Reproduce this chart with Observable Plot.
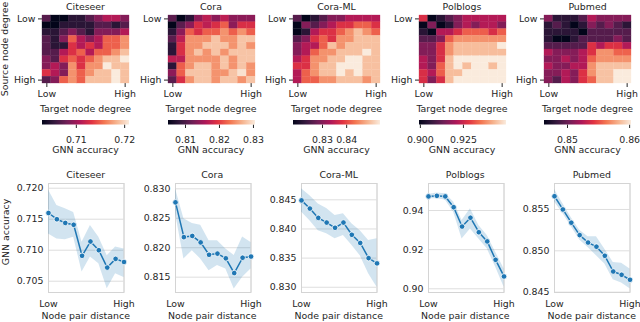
<!DOCTYPE html>
<html><head><meta charset="utf-8">
<script src="https://cdn.jsdelivr.net/npm/d3@7"></script>
<script src="https://cdn.jsdelivr.net/npm/@observablehq/plot@0.6"></script>
<style>
body{margin:0;background:#fff;}
#wrap{position:relative;width:640px;height:322px;overflow:hidden;background:#fff;}
.lbl{position:absolute;font-family:"DejaVu Sans";font-size:9.4px;color:#262626;white-space:nowrap;line-height:1;}
</style></head><body><div id="wrap"></div>
<script>
const datasets = ["Citeseer", "Cora", "Cora-ML", "Polblogs", "Pubmed"];
const bins = [0, 1, 2, 3, 4, 5, 6, 7, 8, 9];
const binLabels = ["Low", "High"];

// Heatmaps: rows = source degree bin (Low..High), cols = target degree bin (Low..High)
const heatCiteseer = [
  [.707,.703,.703,.705,.705,.707,.709,.711,.711,.709],
  [.703,.703,.705,.705,.705,.705,.707,.707,.705,.707],
  [.705,.705,.707,.709,.707,.705,.709,.709,.709,.711],
  [.707,.705,.709,.715,.711,.709,.711,.715,.715,.717],
  [.707,.705,.705,.713,.711,.713,.711,.715,.715,.717],
  [.707,.707,.711,.713,.715,.711,.715,.715,.717,.719],
  [.709,.707,.713,.715,.713,.715,.717,.719,.719,.721],
  [.709,.711,.709,.717,.713,.717,.717,.721,.719,.719],
  [.713,.711,.709,.717,.715,.717,.719,.719,.721,.719],
  [.707,.709,.715,.717,.715,.719,.719,.719,.721,.719]
];
const heatCora = [
  [.811,.805,.808,.814,.817,.814,.817,.814,.814,.814],
  [.805,.811,.814,.819,.817,.819,.822,.814,.819,.819],
  [.808,.814,.822,.819,.822,.822,.825,.822,.825,.822],
  [.811,.817,.825,.825,.825,.828,.825,.825,.828,.828],
  [.808,.819,.825,.825,.828,.828,.828,.825,.828,.825],
  [.808,.819,.825,.828,.825,.828,.825,.828,.828,.828],
  [.817,.817,.825,.825,.825,.825,.828,.825,.828,.828],
  [.808,.822,.825,.828,.828,.825,.828,.825,.828,.825],
  [.814,.822,.828,.828,.828,.825,.825,.828,.830,.825],
  [.811,.819,.825,.828,.828,.825,.828,.828,.825,.828]
];
const heatCoraML = [
  [.826,.818,.822,.826,.830,.830,.834,.834,.834,.834],
  [.818,.830,.826,.830,.834,.838,.838,.842,.842,.838],
  [.818,.822,.834,.838,.838,.842,.846,.850,.846,.842],
  [.826,.830,.838,.842,.838,.846,.846,.850,.850,.850],
  [.830,.834,.834,.842,.850,.846,.850,.850,.850,.850],
  [.830,.834,.842,.846,.846,.850,.850,.850,.854,.850],
  [.834,.838,.846,.846,.850,.850,.854,.854,.850,.850],
  [.838,.838,.846,.850,.850,.854,.854,.854,.850,.850],
  [.834,.842,.846,.850,.850,.854,.850,.854,.850,.850],
  [.834,.842,.842,.846,.846,.850,.850,.850,.846,.850]
];
const heatPolblogs = [
  [.927,.900,.905,.911,.916,.922,.922,.922,.922,.922],
  [.900,.916,.900,.905,.916,.922,.916,.922,.922,.916],
  [.905,.900,.922,.922,.927,.933,.933,.933,.927,.933],
  [.911,.911,.916,.933,.939,.939,.939,.939,.939,.939],
  [.916,.916,.927,.939,.944,.944,.944,.944,.944,.950],
  [.916,.916,.927,.939,.944,.944,.944,.944,.944,.944],
  [.922,.916,.927,.944,.950,.950,.950,.950,.950,.950],
  [.922,.916,.933,.944,.950,.944,.950,.950,.944,.950],
  [.927,.922,.933,.944,.944,.950,.950,.950,.950,.950],
  [.927,.916,.927,.944,.950,.950,.950,.950,.950,.950]
];
const heatPubmed = [
  [.8510,.8479,.8479,.8479,.8494,.8525,.8510,.8510,.8510,.8510],
  [.8479,.8494,.8479,.8463,.8479,.8510,.8494,.8510,.8494,.8479],
  [.8479,.8479,.8479,.8479,.8463,.8494,.8494,.8494,.8494,.8494],
  [.8479,.8463,.8463,.8479,.8494,.8494,.8494,.8494,.8510,.8494],
  [.8494,.8494,.8494,.8494,.8494,.8541,.8525,.8541,.8541,.8525],
  [.8525,.8510,.8510,.8510,.8525,.8541,.8572,.8572,.8557,.8557],
  [.8510,.8510,.8525,.8510,.8525,.8557,.8572,.8572,.8572,.8572],
  [.8525,.8510,.8510,.8525,.8525,.8572,.8588,.8588,.8588,.8588],
  [.8510,.8510,.8525,.8510,.8541,.8572,.8588,.8588,.8603,.8603],
  [.8510,.8494,.8525,.8510,.8541,.8557,.8588,.8588,.8603,.8603]
];
const heatGrids = [heatCiteseer, heatCora, heatCoraML, heatPolblogs, heatPubmed];

// colorbar domains and ticks
const colorDomains = [[0.703, 0.721], [0.805, 0.8306], [0.818, 0.854], [0.8995, 0.950], [0.8463, 0.8603]];
const colorTicks = [[0.71, 0.72], [0.81, 0.82, 0.83], [0.83, 0.84], [0.900, 0.925], [0.85, 0.86]];
const colorFormats = [".2f", ".2f", ".2f", ".3f", ".2f"];

// line charts: GNN accuracy vs node pair distance (mean and confidence band)
const meanCiteseer = [0.7160, 0.7150, 0.7144, 0.7141, 0.7091, 0.7114, 0.7100, 0.7072, 0.7086, 0.7081];
const highCiteseer = [0.7197, 0.7172, 0.7167, 0.7161, 0.7113, 0.7140, 0.7121, 0.7091, 0.7105, 0.7102];
const lowCiteseer  = [0.7126, 0.7118, 0.7117, 0.7121, 0.7065, 0.7089, 0.7078, 0.7038, 0.7062, 0.7056];
const meanCora = [0.8277, 0.8218, 0.8220, 0.8209, 0.8188, 0.8190, 0.8182, 0.8157, 0.8183, 0.8185];
const highCora = [0.8300, 0.8249, 0.8241, 0.8238, 0.8212, 0.8212, 0.8198, 0.8187, 0.8218, 0.8209];
const lowCora  = [0.8258, 0.8181, 0.8195, 0.8181, 0.8161, 0.8170, 0.8164, 0.8130, 0.8150, 0.8164];
const meanCoraML = [0.8449, 0.8435, 0.8419, 0.8411, 0.8402, 0.8411, 0.8390, 0.8376, 0.8350, 0.8341];
const highCoraML = [0.8469, 0.8457, 0.8443, 0.8435, 0.8423, 0.8426, 0.8409, 0.8397, 0.8380, 0.8383];
const lowCoraML  = [0.8429, 0.8414, 0.8397, 0.8392, 0.8383, 0.8389, 0.8372, 0.8354, 0.8323, 0.8300];
const meanPolblogs = [0.9472, 0.9475, 0.9472, 0.9417, 0.9318, 0.9363, 0.9289, 0.9242, 0.9148, 0.9063];
const highPolblogs = [0.9482, 0.9489, 0.9485, 0.9443, 0.9349, 0.9409, 0.9323, 0.9272, 0.9187, 0.9102];
const lowPolblogs  = [0.9460, 0.9460, 0.9454, 0.9391, 0.9255, 0.9306, 0.9255, 0.9204, 0.9111, 0.9009];
const meanPubmed = [0.8566, 0.8550, 0.8534, 0.8519, 0.8510, 0.8505, 0.8494, 0.8475, 0.8471, 0.8465];
const highPubmed = [0.8574, 0.8557, 0.8540, 0.8525, 0.8517, 0.8517, 0.8502, 0.8486, 0.8485, 0.8478];
const lowPubmed  = [0.8559, 0.8545, 0.8529, 0.8513, 0.8504, 0.8494, 0.8484, 0.8465, 0.8461, 0.8454];
const means = [meanCiteseer, meanCora, meanCoraML, meanPolblogs, meanPubmed];
const highs = [highCiteseer, highCora, highCoraML, highPolblogs, highPubmed];
const lows = [lowCiteseer, lowCora, lowCoraML, lowPolblogs, lowPubmed];

const yDomains = [[0.70318, 0.72076], [0.8124, 0.8309], [0.8291, 0.8478], [0.8981, 0.9538], [0.84496, 0.85814]];
const yTicks = [[0.705, 0.710, 0.715, 0.720], [0.815, 0.820, 0.825, 0.830], [0.830, 0.835, 0.840, 0.845], [0.90, 0.92, 0.94], [0.845, 0.850, 0.855]];
const yFormats = [".3f", ".3f", ".3f", ".2f", ".3f"];

const rocketStops = ["#03051a", "#35193e", "#701f57", "#ad1759", "#e13342", "#f37651", "#f6b48f", "#faebdd"];
const rocket = d3.piecewise(d3.interpolateRgb, rocketStops);

const blue = "#1f77b4";
const wrap = document.getElementById("wrap");
const baseStyle = {fontFamily: "DejaVu Sans", fontSize: "9.4px", color: "#262626", background: "transparent", overflow: "visible"};
const lowHigh = d => d === bins[0] ? binLabels[0] : binLabels[1];

function place(el, left, top) {
  el.style.position = "absolute";
  el.style.left = left + "px";
  el.style.top = top + "px";
  wrap.appendChild(el);
}
function label(text, cx, cy, rotate) {
  const d = document.createElement("div");
  d.className = "lbl";
  d.textContent = text;
  d.style.left = cx + "px";
  d.style.top = cy + "px";
  d.style.transform = "translate(-50%,-50%)" + (rotate ? " rotate(-90deg)" : "");
  wrap.appendChild(d);
}

const heatW = 87, heatH = 68, heatTop = 15;
datasets.forEach((name, i) => {
  const areaLeft = 42 + 125.5 * i;
  const cells = [];
  heatGrids[i].forEach((row, r) => row.forEach((v, c) => cells.push({row: bins[r], col: bins[c], value: v})));
  const ml = 40, mr = 4, mt = 2, mb = 22;
  const hm = Plot.plot({
    width: ml + heatW + mr, height: mt + heatH + mb,
    marginLeft: ml, marginRight: mr, marginTop: mt, marginBottom: mb,
    style: baseStyle,
    x: {type: "band", domain: bins, padding: 0, round: false, ticks: [bins[0], bins[9]], tickFormat: lowHigh, tickSize: 4, tickPadding: 3, label: null},
    y: {type: "band", domain: bins, padding: 0, round: false, ticks: [bins[0], bins[9]], tickFormat: lowHigh, tickSize: 4, tickPadding: 3, label: null},
    color: {type: "linear", domain: colorDomains[i], interpolate: t => rocket(t)},
    marks: [Plot.cell(cells, {x: "col", y: "row", fill: "value", stroke: "value", strokeWidth: 0.3, inset: 0})]
  });
  place(hm, areaLeft - ml, heatTop - mt);

  // colorbar
  const cml = 4, cmr = 4, cmt = 2, cbh = 4.5, cmb = 22;
  const gid = "cbgrad" + i;
  const cb = Plot.plot({
    width: cml + heatW + cmr, height: cmt + cbh + cmb,
    marginLeft: cml, marginRight: cmr, marginTop: cmt, marginBottom: cmb,
    style: baseStyle,
    x: {domain: colorDomains[i], ticks: colorTicks[i], tickFormat: d3.format(colorFormats[i]), tickSize: 3.5, tickPadding: 8, label: null},
    marks: [
      (index, scales, values, dims) => {
        const g = d3.create("svg:g");
        const grad = g.append("defs").append("linearGradient").attr("id", gid).attr("x1", "0").attr("x2", "1").attr("y1", "0").attr("y2", "0");
        rocketStops.forEach((c, k) => grad.append("stop").attr("offset", k / (rocketStops.length - 1)).attr("stop-color", c));
        g.append("rect")
          .attr("x", dims.marginLeft).attr("y", dims.marginTop)
          .attr("width", dims.width - dims.marginLeft - dims.marginRight)
          .attr("height", dims.height - dims.marginTop - dims.marginBottom)
          .attr("fill", `url(#${gid})`);
        return g.node();
      },
      Plot.tickX(colorTicks[i], {strokeOpacity: 0})
    ]
  });
  place(cb, areaLeft - cml, 119.5 - cmt);

  const cx = areaLeft + heatW / 2;
  label(name, cx, 6.5);
  label("Target node degree", cx, 108.5);
  label("GNN accuracy", cx, 150);

  // line chart
  const lLeft = 48 + 126.5 * i, lW = 75.5, lTop = 183, lH = 109;
  const rows = bins.map((b, k) => ({d: b, mean: means[i][k], lo: lows[i][k], hi: highs[i][k]}));
  const lml = 46, lmr = 6, lmt = 2, lmb = 22;
  const lc = Plot.plot({
    width: lml + lW + lmr, height: lmt + lH + lmb,
    marginLeft: lml, marginRight: lmr, marginTop: lmt, marginBottom: lmb,
    style: baseStyle,
    x: {domain: [bins[0], bins[9]], ticks: [bins[0], bins[9]], tickFormat: lowHigh, tickSize: 0, tickPadding: 8, label: null},
    y: {domain: yDomains[i], ticks: yTicks[i], tickFormat: d3.format(yFormats[i]), tickSize: 0, tickPadding: 5, label: null},
    marks: [
      Plot.ruleY(yTicks[i], {stroke: "#dedede", strokeWidth: 1}),
      Plot.ruleX([bins[0], bins[9]], {stroke: "#dedede", strokeWidth: 1}),
      Plot.frame({stroke: "#d4d4d4", strokeWidth: 1}),
      Plot.areaY(rows, {x: "d", y1: "lo", y2: "hi", fill: blue, fillOpacity: 0.2}),
      Plot.line(rows, {x: "d", y: "mean", stroke: blue, strokeWidth: 1.5}),
      Plot.dot(rows, {x: "d", y: "mean", r: 2.8, fill: blue, stroke: "white", strokeWidth: 0.8})
    ]
  });
  place(lc, lLeft - lml, lTop - lmt);
  const lcx = lLeft + lW / 2;
  label(name, lcx, 174.5);
  label("Node pair distance", lcx, 316);
});
label("Source node degree", 5, 49, true);
label("GNN accuracy", 6, 232, true);
</script></body></html>
